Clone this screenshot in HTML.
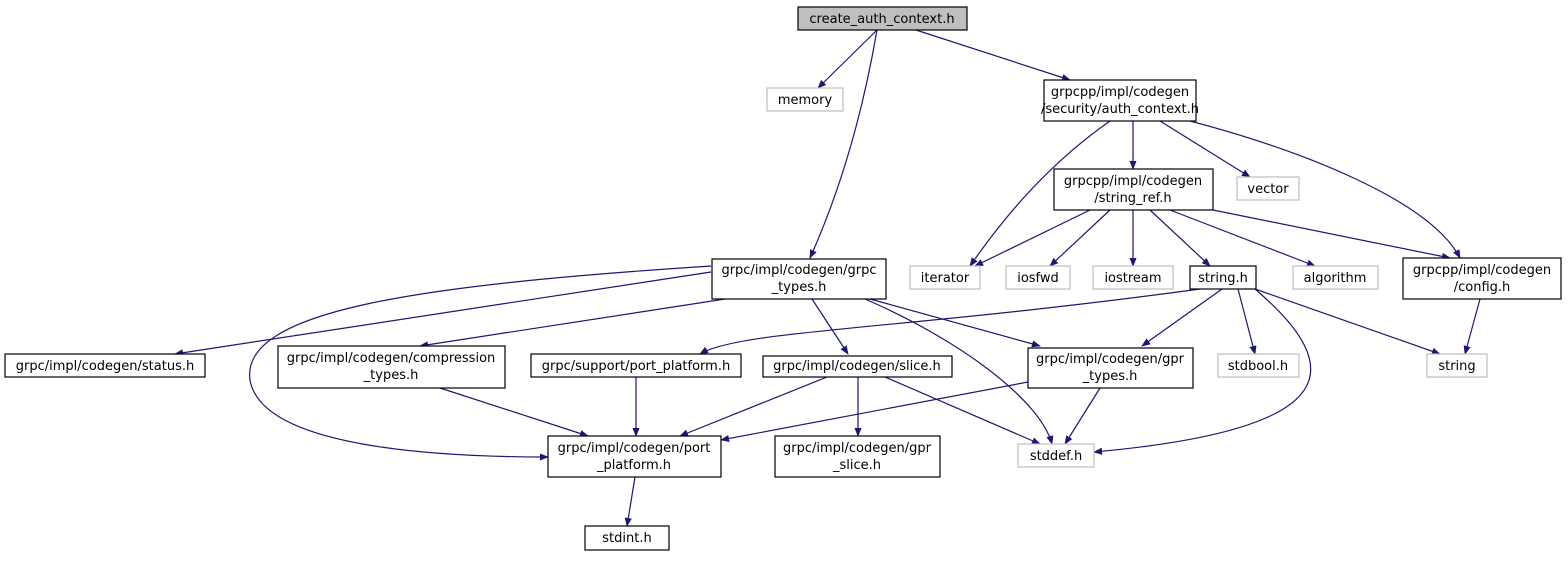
<!DOCTYPE html>
<html><head><meta charset="utf-8"><style>
html,body{margin:0;padding:0;background:#fff;}
svg text{font-family:"DejaVu Sans","Liberation Sans",sans-serif;font-size:13px;fill:#000;text-anchor:middle;}
.b{fill:#fff;stroke:#000;stroke-width:1.2}
.g{fill:#fff;stroke:#bfbfbf;stroke-width:1.2}
.e{fill:none;stroke:#191970;stroke-width:1.2;marker-end:url(#a)}
</style></head><body>
<svg width="1568" height="559" viewBox="0 0 1568 559" xmlns="http://www.w3.org/2000/svg">
<defs><marker id="a" viewBox="0 0 10 10" refX="9" refY="5" markerWidth="9" markerHeight="9" markerUnits="userSpaceOnUse" orient="auto"><path d="M0,1 L10,5 L0,9 z" fill="#191970"/></marker></defs>
<path class="e" d="M877,30 L818,88"/>
<path class="e" d="M916,30 L1070,80"/>
<path class="e" d="M877,30 C865,100 845,180 810,258"/>
<path class="e" d="M1133,121 L1133,169"/>
<path class="e" d="M1160,121 L1250,177"/>
<path class="e" d="M1110,121 C1040,170 995,230 970,266"/>
<path class="e" d="M1190,121 C1300,150 1430,200 1460,258"/>
<path class="e" d="M1090,210 L975,266"/>
<path class="e" d="M1110,210 L1050,266"/>
<path class="e" d="M1133,210 L1133,266"/>
<path class="e" d="M1150,210 L1210,266"/>
<path class="e" d="M1170,210 L1315,266"/>
<path class="e" d="M1213,210 L1450,258"/>
<path class="e" d="M1480,299 L1465,354"/>
<path class="e" d="M711,272 L175,354"/>
<path class="e" d="M711,266 C420,285 240,310 250,380 C262,450 450,457 548,457"/>
<path class="e" d="M725,299 L420,346"/>
<path class="e" d="M812,299 L848,354"/>
<path class="e" d="M865,299 C960,340 1040,400 1052,444"/>
<path class="e" d="M870,299 L1040,346"/>
<path class="e" d="M1200,289 C900,330 740,330 700,354"/>
<path class="e" d="M1222,289 L1142,346"/>
<path class="e" d="M1238,289 L1255,354"/>
<path class="e" d="M1255,289 L1440,354"/>
<path class="e" d="M1255,289 C1350,370 1340,430 1094,452"/>
<path class="e" d="M440,388 L588,436"/>
<path class="e" d="M636,377 L636,436"/>
<path class="e" d="M827,377 L680,436"/>
<path class="e" d="M858,377 L858,436"/>
<path class="e" d="M885,377 L1040,444"/>
<path class="e" d="M1028,382 L721,440"/>
<path class="e" d="M1100,388 L1065,444"/>
<path class="e" d="M635,477 L627,526"/>
<rect x="798" y="7" width="169" height="23" fill="#bfbfbf" stroke="#000" stroke-width="1.2"/><text x="882" y="23">create_auth_context.h</text>
<rect class="g" x="767" y="88" width="76" height="23"/><text x="805" y="104">memory</text>
<rect class="b" x="1044" y="80" width="152" height="41"/><text x="1120" y="96">grpcpp/impl/codegen</text><text x="1120" y="113">/security/auth_context.h</text>
<rect class="b" x="1054" y="169" width="159" height="41"/><text x="1133" y="185">grpcpp/impl/codegen</text><text x="1133" y="202">/string_ref.h</text>
<rect class="g" x="1237" y="177" width="62" height="23"/><text x="1268" y="193">vector</text>
<rect class="g" x="910" y="266" width="70" height="23"/><text x="945" y="282">iterator</text>
<rect class="g" x="1006" y="266" width="64" height="23"/><text x="1038" y="282">iosfwd</text>
<rect class="g" x="1093" y="266" width="80" height="23"/><text x="1133" y="282">iostream</text>
<rect class="b" x="1190" y="266" width="66" height="23"/><text x="1223" y="282">string.h</text>
<rect class="g" x="1293" y="266" width="85" height="23"/><text x="1335" y="282">algorithm</text>
<rect class="b" x="1403" y="258" width="158" height="41"/><text x="1482" y="274">grpcpp/impl/codegen</text><text x="1482" y="291">/config.h</text>
<rect class="b" x="712" y="259" width="174" height="40"/><text x="799" y="274">grpc/impl/codegen/grpc</text><text x="799" y="291">_types.h</text>
<rect class="b" x="5" y="354" width="200" height="23"/><text x="105" y="370">grpc/impl/codegen/status.h</text>
<rect class="b" x="278" y="346" width="227" height="42"/><text x="391" y="362">grpc/impl/codegen/compression</text><text x="391" y="379">_types.h</text>
<rect class="b" x="531" y="354" width="210" height="23"/><text x="636" y="370">grpc/support/port_platform.h</text>
<rect class="b" x="763" y="356" width="189" height="21"/><text x="857" y="370">grpc/impl/codegen/slice.h</text>
<rect class="b" x="1028" y="348" width="165" height="40"/><text x="1110" y="363">grpc/impl/codegen/gpr</text><text x="1110" y="380">_types.h</text>
<rect class="g" x="1218" y="354" width="81" height="23"/><text x="1258" y="370">stdbool.h</text>
<rect class="g" x="1427" y="354" width="60" height="23"/><text x="1457" y="370">string</text>
<rect class="b" x="548" y="436" width="173" height="41"/><text x="634" y="452">grpc/impl/codegen/port</text><text x="634" y="469">_platform.h</text>
<rect class="b" x="775" y="436" width="165" height="41"/><text x="857" y="452">grpc/impl/codegen/gpr</text><text x="857" y="469">_slice.h</text>
<rect class="g" x="1018" y="444" width="76" height="23"/><text x="1056" y="460">stddef.h</text>
<rect class="b" x="585" y="526" width="84" height="24"/><text x="627" y="542">stdint.h</text>
</svg>
</body></html>
